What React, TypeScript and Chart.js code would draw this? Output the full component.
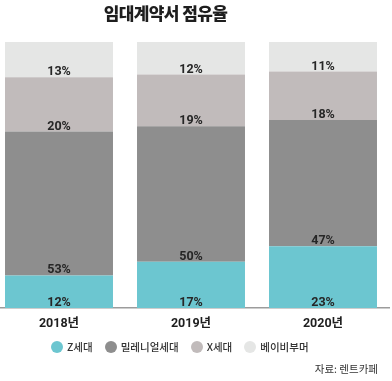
import React, { useEffect, useRef } from 'react';
import { Chart, registerables } from 'chart.js';

Chart.register(...registerables);

const categories = ['2018년', '2019년', '2020년'];
const seriesNames = ['Z세대', '밀레니얼세대', 'X세대', '베이비부머'];
const zGen = [12, 17, 23];
const millennial = [53, 50, 47];
const xGen = [20, 19, 18];
const boomer = [13, 12, 11];
const seriesColors = ['#6cc6d0', '#8e8e8e', '#c1bbbb', '#e5e6e5'];
const titleText = '임대계약서 점유율';
const sourceText = '자료: 렌트카페';

const seriesValues = [zGen, millennial, xGen, boomer];

const labelPlugin = {
  id: 'segLabels',
  afterDatasetsDraw(chart: any) {
    const ctx = chart.ctx;
    ctx.save();
    ctx.font = 'bold 12.5px Roboto, "Noto Sans", sans-serif';
    ctx.fillStyle = '#262626';
    ctx.textAlign = 'center';
    ctx.textBaseline = 'alphabetic';
    chart.data.datasets.forEach((ds: any, di: number) => {
      const meta = chart.getDatasetMeta(di);
      meta.data.forEach((bar: any, i: number) => {
        const p = bar.getProps(['x', 'base'], true);
        ctx.fillText(ds.rawValues[i] + '%', p.x, p.base - 2);
      });
    });
    ctx.restore();
  },
};

export default function App() {
  const ref = useRef<HTMLCanvasElement | null>(null);

  useEffect(() => {
    if (!ref.current) return;
    const totals = categories.map((_, i) =>
      seriesValues.reduce((s, arr) => s + arr[i], 0)
    );
    const chart = new Chart(ref.current, {
      type: 'bar',
      data: {
        labels: categories,
        datasets: seriesValues.map((vals, si) => ({
          label: seriesNames[si],
          data: vals.map((v, i) => (v / totals[i]) * 100),
          rawValues: vals,
          backgroundColor: seriesColors[si],
          borderWidth: 0,
          categoryPercentage: 1,
          barPercentage: 0.818,
        })) as any,
      },
      options: {
        responsive: false,
        maintainAspectRatio: false,
        animation: false,
        layout: { padding: { top: 42, right: 3, left: 0, bottom: 42 } },
        plugins: {
          legend: { display: false },
          title: { display: false },
          tooltip: { enabled: false },
        },
        scales: {
          x: {
            stacked: true,
            grid: { display: false, drawTicks: false },
            border: { display: true, color: '#9c9c9c', width: 1.5 },
            ticks: {
              color: '#1e1e1e',
              padding: 8,
              font: { family: 'Roboto, "Noto Sans CJK KR", sans-serif', size: 12.5, weight: 'bold' },
            },
          },
          y: {
            stacked: true,
            display: false,
            min: 0,
            max: 100,
          },
        },
      },
      plugins: [labelPlugin],
    });
    return () => chart.destroy();
  }, []);

  return (
    <div style={{ position: 'absolute', left: 0, top: 0, width: 392, height: 381, overflow: 'hidden', background: '#fff', fontFamily: '"Noto Sans CJK KR", "Noto Sans", sans-serif' }}>
      <canvas ref={ref} width={399} height={381} style={{ position: 'absolute', left: -7, top: 0, width: 399, height: 381 }} />
      <div style={{ position: 'absolute', left: 0, top: 4, width: 331, textAlign: 'center', fontSize: 17, lineHeight: '18px', fontWeight: 900, color: '#1e1e1e', letterSpacing: '-0.6px' }}>
        {titleText}
      </div>
      <div style={{ position: 'absolute', left: 51, top: 341, display: 'flex', alignItems: 'center', fontSize: 10.5, lineHeight: '12px', fontWeight: 500, color: '#333' }}>
        {seriesNames.map((n, i) => (
          <div key={n} style={{ display: 'flex', alignItems: 'center', marginRight: 12 }}>
            <span style={{ display: 'inline-block', width: 12, height: 12, borderRadius: 6, background: seriesColors[i], marginRight: 4 }} />
            <span>{n}</span>
          </div>
        ))}
      </div>
      <div style={{ position: 'absolute', right: 14, top: 363, fontSize: 10.5, lineHeight: '12px', color: '#333' }}>
        {sourceText}
      </div>
    </div>
  );
}
